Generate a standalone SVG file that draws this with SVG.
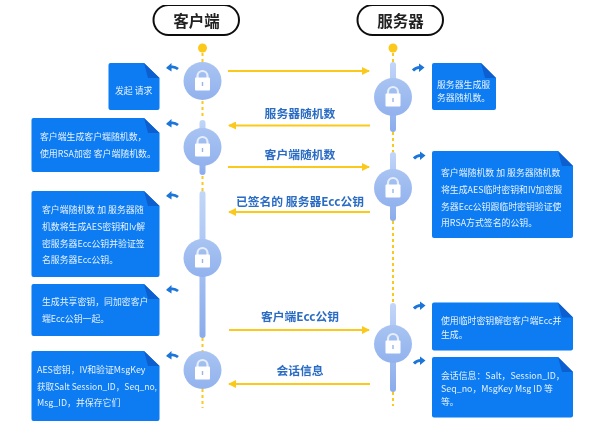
<svg xmlns="http://www.w3.org/2000/svg" width="600" height="428" viewBox="0 0 600 428">
<style>
text{font-family:"Noto Sans CJK SC","Noto Sans",sans-serif}
.pill{fill:#fff;stroke:#111;stroke-width:2}
.title{font-size:15.5px;font-weight:700;fill:#222;text-anchor:middle}
.label{font-size:11.8px;font-weight:700;fill:#2a6cc4;text-anchor:middle}
.note{font-size:8.9px;fill:#e8f2ff}
.n{fill:#0a7bf2}
.fold{fill:#0a5fd0}
.msg{stroke:#fbc91c;stroke-width:2;fill:none}
.dot{stroke:#fbc91c;stroke-width:2;stroke-dasharray:3 3;fill:none}
.ret{fill:none;stroke:#1a74d8;stroke-width:2.800}
</style>
<defs>
<filter id="soft" x="0" y="0" width="100%" height="100%"><feGaussianBlur stdDeviation="0.350"/></filter>
<linearGradient id="cg" x1="0" y1="0" x2="0" y2="1"><stop offset="0" stop-color="#a9c4f2"/><stop offset="1" stop-color="#92b2ee"/></linearGradient>
<linearGradient id="bar" x1="0" y1="0" x2="0" y2="1"><stop offset="0" stop-color="#c2d6f8"/><stop offset="1" stop-color="#8aacec"/></linearGradient>
<marker id="ar" viewBox="0 0 8 8" refX="7" refY="4" markerWidth="8" markerHeight="8" markerUnits="userSpaceOnUse" orient="auto"><path d="M0 0L8 4L0 8Z" fill="#fbc91c"/></marker>
<g id="lock">
<circle r="19" fill="url(#cg)"/>
<path d="M-5 -3V-5A5 5 0 0 1 5 -5V-3" fill="none" stroke="#e6eefc" stroke-width="2.200"/>
<rect x="-7.500" y="-3.500" width="15" height="13" rx="1" fill="#fff"/>
<rect x="-0.700" y="1" width="1.400" height="4" fill="#9ab4e8"/>
</g>
<g id="retL"><path class="ret" d="M178 69C175 66.500 171 66.500 168 68"/><path d="M166 68L171.500 63L171.500 71.500Z" fill="#1a74d8"/></g>
<g id="retR"><path class="ret" d="M413 70.500C415.500 67.500 419 67 422 67.500"/><path d="M424.500 67.500L419 63.500L419 72Z" fill="#1a74d8"/></g>
</defs>
<rect width="600" height="428" fill="#fff"/>
<g filter="url(#soft)">
<g id="connectors">
<path class="dot" d="M202.500 53V119M202.500 176V191M202.500 338V352M202.500 389V408"/>
<path class="dot" d="M393 53V62M393 132V152M393 221V303M393 392V406"/>
<path class="msg" marker-end="url(#ar)" d="M228 71H369"/>
<path class="msg" marker-end="url(#ar)" d="M370 125.500H229"/>
<path class="msg" marker-end="url(#ar)" d="M228 167H369"/>
<path class="msg" marker-end="url(#ar)" d="M370 212H229"/>
<path class="msg" marker-end="url(#ar)" d="M229 330H369"/>
<path class="msg" marker-end="url(#ar)" d="M370 384H229"/>
<text class="label" x="300" y="118">服务器随机数</text>
<text class="label" x="300" y="159">客户端随机数</text>
<text class="label" x="300" y="206">已签名的 服务器Ecc公钥</text>
<text class="label" x="300" y="321">客户端Ecc公钥</text>
<text class="label" x="300" y="375">会话信息</text>
<use href="#retL" y="0"/><use href="#retL" y="56"/><use href="#retL" y="128"/><use href="#retL" y="222"/><use href="#retL" y="288"/>
<use href="#retR" y="0"/><use href="#retR" x="1" y="88"/><use href="#retR" x="1" y="238"/><use href="#retR" x="1" y="293"/>
</g>

<g id="client">
<rect class="pill" x="153.500" y="5" width="85.500" height="30" rx="15"/>
<text class="title" x="196.500" y="27">客户端</text>
</g>
<g id="server">
<rect class="pill" x="357.500" y="5" width="85.500" height="30" rx="15"/>
<text class="title" x="400.500" y="27">服务器</text>
</g>

<g id="client-timeline">
<circle cx="202.500" cy="48" r="4.500" fill="#fbc91c"/>
<rect x="199.500" y="120" width="6" height="55" rx="3" fill="url(#bar)"/>
<rect x="199.500" y="191" width="6" height="147" rx="3" fill="url(#bar)"/>
<use href="#lock" x="202.500" y="81"/>
<use href="#lock" x="202.500" y="147"/>
<use href="#lock" x="202.500" y="258"/>
<use href="#lock" x="202.500" y="370"/>
</g>
<g id="server-timeline">
<circle cx="393" cy="48" r="4.500" fill="#fbc91c"/>
<rect x="390" y="62" width="6" height="70" rx="3" fill="url(#bar)"/>
<rect x="390" y="152" width="6" height="69" rx="3" fill="url(#bar)"/>
<rect x="390" y="303" width="6" height="89" rx="3" fill="url(#bar)"/>
<use href="#lock" x="393" y="97"/>
<use href="#lock" x="393" y="188"/>
<use href="#lock" x="393" y="344"/>
</g>

<g id="note-c1">
<path class="n" d="M110.500 63H144L159.500 78V108a2 2 0 0 1-2 2H110.500a2 2 0 0 1-2-2V65a2 2 0 0 1 2-2Z"/><path class="fold" d="M144 63L159.500 78H148Z"/>
<text class="note" x="115" y="94">发起 请求</text>
</g>
<g id="note-c2">
<path class="n" d="M33.500 118H144L159.500 133V170a2 2 0 0 1-2 2H33.500a2 2 0 0 1-2-2V120a2 2 0 0 1 2-2Z"/><path class="fold" d="M144 118L159.500 133H148Z"/>
<text class="note" x="40" y="140">客户端生成客户端随机数，</text>
<text class="note" x="40" y="157">使用RSA加密 客户端随机数。</text>
</g>
<g id="note-c3">
<path class="n" d="M33.500 191H144L159.500 206V275a2 2 0 0 1-2 2H33.500a2 2 0 0 1-2-2V193a2 2 0 0 1 2-2Z"/><path class="fold" d="M144 191L159.500 206H148Z"/>
<text class="note" x="42" y="213">客户端随机数 加 服务器随</text>
<text class="note" x="42" y="230">机数将生成AES密钥和Iv解</text>
<text class="note" x="42" y="247">密服务器Ecc公钥并验证签</text>
<text class="note" x="42" y="263">名服务器Ecc公钥。</text>
</g>
<g id="note-c4">
<path class="n" d="M33.500 284H144L159.500 299V334a2 2 0 0 1-2 2H33.500a2 2 0 0 1-2-2V286a2 2 0 0 1 2-2Z"/><path class="fold" d="M144 284L159.500 299H148Z"/>
<text class="note" x="42" y="305">生成共享密钥，同加密客户</text>
<text class="note" x="42" y="322">端Ecc公钥一起。</text>
</g>
<g id="note-c5">
<path class="n" d="M33.500 351H144L159.500 366V419a2 2 0 0 1-2 2H33.500a2 2 0 0 1-2-2V353a2 2 0 0 1 2-2Z"/><path class="fold" d="M144 351L159.500 366H148Z"/>
<text class="note" x="37" y="373">AES密钥，IV和验证MsgKey</text>
<text class="note" x="37" y="390" textLength="120" lengthAdjust="spacingAndGlyphs">获取Salt Session_ID，Seq_no,</text>
<text class="note" x="37" y="406">Msg_ID，并保存它们</text>
</g>
<g id="note-s1">
<path class="n" d="M434 63H481L496 78V108a2 2 0 0 1-2 2H434a2 2 0 0 1-2-2V65a2 2 0 0 1 2-2Z"/><path class="fold" d="M481 63L496 78H485Z"/>
<text class="note" x="437" y="88">服务器生成服</text>
<text class="note" x="437" y="101">务器随机数。</text>
</g>
<g id="note-s2">
<path class="n" d="M434 151H558L573 166V236a2 2 0 0 1-2 2H434a2 2 0 0 1-2-2V153a2 2 0 0 1 2-2Z"/><path class="fold" d="M558 151L573 166H562Z"/>
<text class="note" x="441" y="176">客户端随机数 加 服务器随机数</text>
<text class="note" x="441" y="193">将生成AES临时密钥和IV加密服</text>
<text class="note" x="441" y="210">务器Ecc公钥跟临时密钥验证使</text>
<text class="note" x="441" y="226">用RSA方式签名的公钥。</text>
</g>
<g id="note-s3">
<path class="n" d="M434 302.500H558L573 317.500V348.500a2 2 0 0 1-2 2H434a2 2 0 0 1-2-2V304.500a2 2 0 0 1 2-2Z"/><path class="fold" d="M558 302.500L573 317.500H562Z"/>
<text class="note" x="441" y="324">使用临时密钥解密客户端Ecc并</text>
<text class="note" x="441" y="338">生成。</text>
</g>
<g id="note-s4">
<path class="n" d="M434 357H558L573 372V415.500a2 2 0 0 1-2 2H434a2 2 0 0 1-2-2V359a2 2 0 0 1 2-2Z"/><path class="fold" d="M558 357L573 372H562Z"/>
<text class="note" x="441" y="379">会话信息：Salt，Session_ID，</text>
<text class="note" x="441" y="392">Seq_no，MsgKey Msg ID 等</text>
<text class="note" x="441" y="405">等。</text>
</g>
</g>
</svg>
